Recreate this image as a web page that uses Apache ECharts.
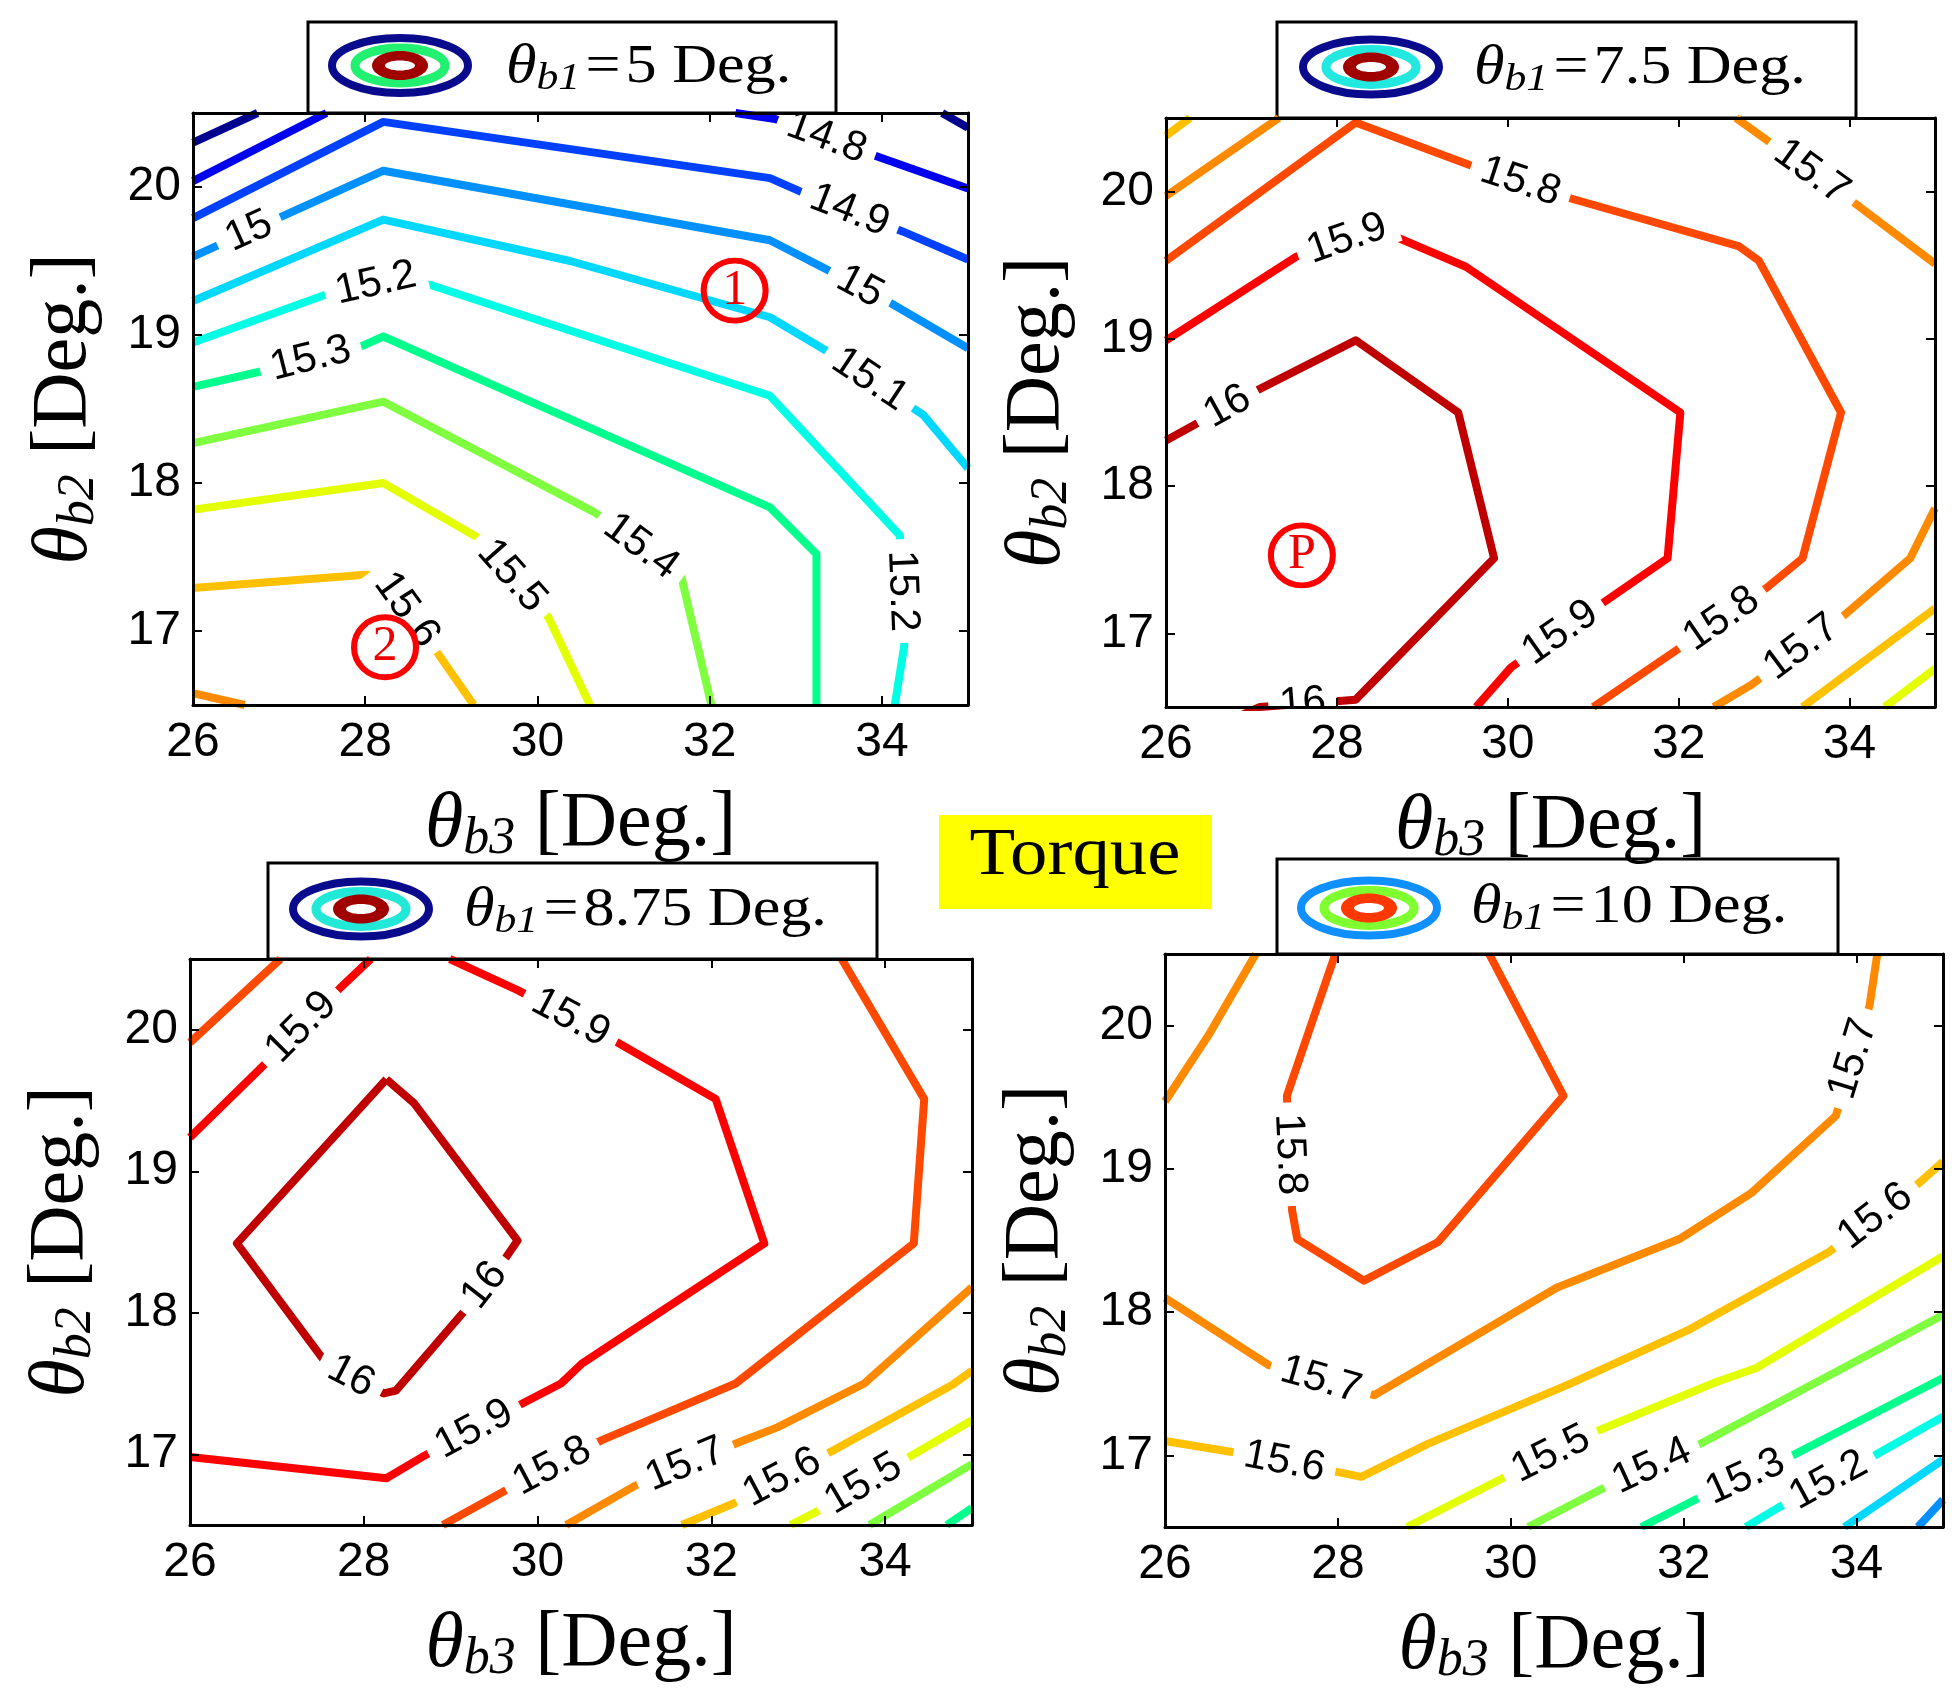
<!DOCTYPE html>
<html>
<head>
<meta charset="utf-8">
<script src="https://cdn.jsdelivr.net/npm/echarts@6/dist/echarts.min.js"></script>
<style>
html,body{margin:0;padding:0;background:#fff;}
#c{width:1955px;height:1707px;}
</style>
</head>
<body>
<div id="c"></div>
<script>
// ---------- data ----------
const xTicks = [26, 28, 30, 32, 34];
const yTicks = [17, 18, 19, 20];
const xRange = [26, 35];
const yRange = [16.5, 20.5];
const panelB1 = ['5', '7.5', '8.75', '10'];
const levels = [14.7, 14.8, 14.9, 15.0, 15.1, 15.2, 15.3, 15.4, 15.5, 15.6, 15.7, 15.8, 15.9, 16.0];

// contour lines: [level, [[theta_b3, theta_b2], ...]]
const p5Lines = [
  [14.7, [[26, 20.30], [26.75, 20.5]]],
  [14.7, [[34.7, 20.5], [35, 20.4]]],
  [14.8, [[26, 20.04], [27.55, 20.5]]],
  [14.8, [[32.3, 20.5], [32.76, 20.46], [33.93, 20.21], [35, 19.99]]],
  [14.9, [[26, 19.79], [28.21, 20.44], [32.70, 20.06], [33.05, 19.97], [34.24, 19.70], [35, 19.51]]],
  [15.0, [[26, 19.53], [28.21, 20.11], [32.70, 19.64], [33.47, 19.41], [34.09, 19.22], [35, 18.91]]],
  [15.1, [[26, 19.23], [28.21, 19.78], [30.38, 19.50], [32.70, 19.12], [33.35, 18.895], [34.48, 18.46], [35, 18.10]]],
  [15.2, [[26, 18.95], [27.53, 19.27], [28.21, 19.36], [28.75, 19.34], [32.70, 18.59], [34.21, 17.645], [34.26, 16.90], [34.15, 16.5]]],
  [15.3, [[26, 18.65], [26.76, 18.75], [27.98, 18.93], [28.21, 18.99], [32.70, 17.835], [33.24, 17.52], [33.24, 16.5]]],
  [15.4, [[26, 18.27], [28.21, 18.55], [30.67, 17.80], [31.67, 17.37], [32.02, 16.5]]],
  [15.5, [[26, 17.82], [28.21, 18.00], [29.31, 17.63], [30.13, 17.09], [30.61, 16.5]]],
  [15.6, [[26, 17.29], [28.0, 17.38], [28.21, 17.36], [28.83, 16.86], [29.26, 16.5]]],
  [15.7, [[26, 16.58], [26.6, 16.5]]]
];
// contour labels: [level, theta_b3, theta_b2]
const p5Labels = [
  [15.0, 26.65, 19.70], [15.2, 28.13, 19.33], [15.3, 27.38, 18.81], [14.8, 33.35, 20.32],
  [14.9, 33.63, 19.85], [15.0, 33.74, 19.32], [15.1, 33.86, 18.70], [15.2, 34.23, 17.27],
  [15.4, 31.19, 17.56], [15.5, 29.68, 17.36], [15.6, 28.45, 17.13]
];

const p75Lines = [
  [15.6, [[26, 20.38], [26.28, 20.5]]],
  [15.7, [[26, 19.97], [27.32, 20.5]]],
  [15.8, [[26, 19.53], [28.22, 20.47], [29.60, 20.17], [30.76, 19.95], [32.70, 19.63], [32.94, 19.53], [33.90, 18.50], [33.45, 17.51], [33.03, 17.31], [31.96, 16.88], [31.00, 16.5]]],
  [15.9, [[26, 18.99], [27.53, 19.56], [28.22, 19.70], [28.70, 19.69], [29.51, 19.49], [32.02, 18.50], [31.87, 17.51], [31.12, 17.21], [30.04, 16.77], [29.63, 16.5]]],
  [16.0, [[26, 18.31], [27.03, 18.64], [28.22, 18.99], [29.42, 18.50], [29.84, 17.51], [28.22, 16.55], [27.1, 16.5], [26.9, 16.45]]],
  [15.7, [[32.67, 20.5], [33.03, 20.35], [34.11, 19.90], [35, 19.51]]],
  [15.7, [[32.41, 16.5], [32.85, 16.65], [33.93, 17.12], [34.71, 17.51], [35, 17.85]]],
  [15.6, [[33.45, 16.5], [35, 17.17]]],
  [15.5, [[34.41, 16.5], [35, 16.76]]]
];
const p75Labels = [
  [15.8, 30.15, 20.07], [15.9, 28.13, 19.66], [16.0, 26.73, 18.53], [15.7, 33.54, 20.12],
  [15.9, 30.62, 17.00], [15.8, 32.50, 17.10], [15.7, 33.42, 16.92], [16.0, 27.60, 16.52]
];

const p875Lines = [
  [15.8, [[26, 19.91], [27.04, 20.5]]],
  [15.9, [[26, 19.24], [26.80, 19.72], [27.72, 20.29], [28.08, 20.5]]],
  [15.9, [[28.99, 20.5], [29.77, 20.28], [30.92, 19.91], [32.05, 19.51], [32.61, 18.49], [30.51, 17.64], [30.27, 17.50], [29.83, 17.36], [28.67, 16.98], [28.26, 16.83], [26, 16.98]]],
  [16.0, [[28.26, 19.65], [28.58, 19.48], [29.77, 18.51], [29.59, 18.35], [29.17, 18.02], [28.37, 17.45], [28.23, 17.43], [27.57, 17.64], [26.54, 18.49], [28.26, 19.65]]],
  [15.8, [[33.50, 20.5], [34.45, 19.51], [34.33, 18.49], [32.28, 17.50], [30.74, 17.10], [29.62, 16.74], [28.91, 16.5]]],
  [15.7, [[35, 18.18], [33.76, 17.50], [32.76, 17.19], [32.34, 17.09], [31.13, 16.78], [30.33, 16.5]]],
  [15.6, [[35, 17.59], [34.77, 17.49], [33.38, 17.02], [32.25, 16.65], [31.66, 16.5]]],
  [15.5, [[35, 17.24], [34.33, 17.00], [33.23, 16.60], [32.91, 16.5]]],
  [15.4, [[35, 16.93], [33.82, 16.5]]],
  [15.3, [[35, 16.62], [34.71, 16.5]]]
];
const p875Labels = [
  [15.9, 27.31, 20.00], [15.9, 30.36, 20.06], [16.0, 29.44, 18.17], [16.0, 27.81, 17.50],
  [15.9, 29.32, 17.12], [15.8, 30.18, 16.90], [15.7, 31.72, 16.90], [15.6, 32.82, 16.83], [15.5, 33.79, 16.75]
];

const p10Lines = [
  [15.7, [[26, 19.47], [26.5, 19.93], [27.05, 20.5]]],
  [15.8, [[27.97, 20.5], [27.41, 19.51], [27.47, 18.71], [27.53, 18.51], [28.30, 18.22], [29.16, 18.49], [30.61, 19.51], [29.75, 20.5]]],
  [15.7, [[26, 18.10], [27.20, 17.63], [28.42, 17.42], [30.53, 18.17], [31.95, 18.51], [32.78, 18.83], [33.76, 19.37], [34.15, 20.14], [34.24, 20.5]]],
  [15.6, [[26, 17.10], [26.81, 17.02], [28.03, 16.88], [28.27, 16.85], [29.04, 17.08], [30.65, 17.49], [32.07, 17.88], [33.68, 18.42], [34.72, 18.90], [35, 19.05]]],
  [15.5, [[28.80, 16.5], [29.87, 16.83], [31.00, 17.17], [32.37, 17.51], [32.84, 17.61], [35, 18.39]]],
  [15.4, [[30.20, 16.5], [31.00, 16.75], [32.19, 17.08], [35, 17.98]]],
  [15.3, [[31.51, 16.5], [32.10, 16.68], [33.26, 17.00], [35, 17.54]]],
  [15.2, [[32.72, 16.5], [33.08, 16.63], [34.21, 17.00], [35, 17.27]]],
  [15.1, [[33.86, 16.5], [35, 16.97]]],
  [15.0, [[34.71, 16.5], [35, 16.69]]]
];
const p10Labels = [
  [15.8, 27.38, 19.10], [15.7, 27.79, 17.50], [15.7, 34.06, 19.75], [15.6, 27.38, 16.95],
  [15.6, 34.24, 18.65], [15.5, 30.47, 17.00], [15.4, 31.65, 16.90], [15.3, 32.73, 16.83], [15.2, 33.70, 16.80]
];

// circled annotations: [panel, text, theta_b3, theta_b2]
const markers = [
  [0, '1', 32.29, 19.30],
  [0, '2', 28.23, 16.89],
  [1, 'P', 27.59, 17.53]
];

// ---------- styles / layout ----------
const palette = ['#00008f', '#0000ee', '#0040ff', '#0090ff', '#00d8ff', '#00ffe4', '#00ff8c',
                 '#7fff40', '#e4ff00', '#ffc000', '#ff8a00', '#ff4800', '#ff0000', '#c00000'];
function colorOf(l) {
  let best = 0;
  levels.forEach((v, i) => { if (Math.abs(v - l) < Math.abs(levels[best] - l)) best = i; });
  return palette[best];
}
const panels = [
  { lines: p5Lines, labels: p5Labels, grid: { left: 193, top: 113, width: 775, height: 592 },
    box: [308, 22, 528, 91], icon: [400, 65.5], txt: [506, 68], ic: ['#0a0a8c', '#22f070', '#a00000'] },
  { lines: p75Lines, labels: p75Labels, grid: { left: 1166, top: 118, width: 769, height: 589 },
    box: [1277, 22, 579, 96], icon: [1371, 67], txt: [1474, 69], ic: ['#0a0a8c', '#22e8e0', '#a00000'] },
  { lines: p875Lines, labels: p875Labels, grid: { left: 190, top: 959, width: 782, height: 566 },
    box: [268, 863, 609, 96], icon: [361, 909], txt: [464, 911], ic: ['#0a0a8c', '#22e8d8', '#a00000'] },
  { lines: p10Lines, labels: p10Labels, grid: { left: 1165, top: 954, width: 778, height: 573 },
    box: [1277, 859, 561, 95], icon: [1369, 908], txt: [1471, 908], ic: ['#1090ff', '#80ff30', '#ff3800'] }
];

const SERIF = 'Liberation Serif';
const SANS = 'Liberation Sans';
const nameRich = {
  t: { fontFamily: SERIF, fontStyle: 'italic', fontSize: 78, lineHeight: 80, color: '#000' },
  s: { fontFamily: SERIF, fontStyle: 'italic', fontSize: 52, lineHeight: 36, verticalAlign: 'bottom', color: '#000' },
  n: { fontFamily: SERIF, fontSize: 78, lineHeight: 80, color: '#000' }
};

function fmt(v) { return String(Math.round(v * 10) / 10); }

function makeLabelRenderer(lines) {
  return function (params, api) {
    const lv = api.value(2);
    const p = api.coord([api.value(0), api.value(1)]);
    let best = null;
    lines.forEach(([L, pts]) => {
      if (Math.abs(L - lv) > 1e-6) return;
      for (let k = 0; k < pts.length - 1; k++) {
        const a = api.coord(pts[k]), b = api.coord(pts[k + 1]);
        const dx = b[0] - a[0], dy = b[1] - a[1];
        const len2 = dx * dx + dy * dy || 1;
        let t = ((p[0] - a[0]) * dx + (p[1] - a[1]) * dy) / len2;
        t = Math.max(0, Math.min(1, t));
        const q = [a[0] + t * dx, a[1] + t * dy];
        const d = (q[0] - p[0]) ** 2 + (q[1] - p[1]) ** 2;
        if (!best || d < best.d) best = { d: d, q: q, ang: Math.atan2(-dy, dx) };
      }
    });
    if (!best) best = { q: p, ang: 0 };
    let ang = best.ang;
    if (ang > Math.PI / 2) ang -= Math.PI;
    if (ang <= -Math.PI / 2) ang += Math.PI;
    return {
      type: 'text', x: best.q[0], y: best.q[1], rotation: ang,
      style: {
        text: fmt(lv), fill: '#000', fontSize: 42, fontFamily: SANS,
        align: 'center', verticalAlign: 'middle', lineHeight: 40,
        backgroundColor: '#fff', padding: [0, 11]
      }
    };
  };
}

const grid = [], xAxis = [], yAxis = [], series = [], graphic = [];
const axisLine = { show: true, onZero: false, lineStyle: { color: '#000', width: 3 } };
panels.forEach((P, i) => {
  grid.push(Object.assign({ containLabel: false }, P.grid));
  const tick = { show: true, inside: true, length: 9, lineStyle: { color: '#000', width: 2 } };
  xAxis.push({
    type: 'value', gridIndex: i, position: 'bottom', min: xRange[0], max: xRange[1], z: 10,
    axisLine: axisLine, splitLine: { show: false },
    axisTick: Object.assign({ customValues: xTicks }, tick),
    axisLabel: { show: true, customValues: xTicks, margin: 14, color: '#000', fontSize: 48, fontFamily: SANS },
    name: '{t|θ}{s|b3}{n| [Deg.]}', nameLocation: 'middle', nameGap: 80,
    nameTextStyle: { rich: nameRich, fontFamily: SERIF, fontSize: 78, color: '#000' }
  });
  xAxis.push({
    type: 'value', gridIndex: i, position: 'top', min: xRange[0], max: xRange[1], z: 10,
    axisLine: axisLine, splitLine: { show: false },
    axisTick: Object.assign({ customValues: xTicks }, tick),
    axisLabel: { show: false }
  });
  yAxis.push({
    type: 'value', gridIndex: i, position: 'left', min: yRange[0], max: yRange[1], z: 10,
    axisLine: axisLine, splitLine: { show: false },
    axisTick: Object.assign({ customValues: yTicks }, tick),
    axisLabel: { show: true, customValues: yTicks, margin: 12, color: '#000', fontSize: 48, fontFamily: SANS },
    name: '{t|θ}{s|b2}{n| [Deg.]}', nameLocation: 'middle', nameGap: 88, nameRotate: 90,
    nameTextStyle: { rich: nameRich, fontFamily: SERIF, fontSize: 78, color: '#000' }
  });
  yAxis.push({
    type: 'value', gridIndex: i, position: 'right', min: yRange[0], max: yRange[1], z: 10,
    axisLine: axisLine, splitLine: { show: false },
    axisTick: Object.assign({ customValues: yTicks }, tick),
    axisLabel: { show: false }
  });
  P.lines.forEach(([L, pts]) => {
    series.push({
      type: 'line', xAxisIndex: 2 * i, yAxisIndex: 2 * i, data: pts, symbol: 'none', showSymbol: false,
      clip: true, silent: true, z: 2,
      lineStyle: { color: colorOf(L), width: 8, join: 'round' }
    });
  });
  series.push({
    type: 'custom', xAxisIndex: 2 * i, yAxisIndex: 2 * i, clip: true, silent: true, z: 4,
    data: P.labels.map(l => [l[1], l[2], l[0]]),
    encode: { x: 0, y: 1 },
    renderItem: makeLabelRenderer(P.lines)
  });
  const mk = markers.filter(m => m[0] === i);
  if (mk.length) {
    series.push({
      type: 'scatter', xAxisIndex: 2 * i, yAxisIndex: 2 * i, silent: true, z: 5,
      symbol: 'circle', symbolSize: [62, 60],
      data: mk.map(m => ({ value: [m[2], m[3]], name: m[1] })),
      itemStyle: { color: 'rgba(255,255,255,0)', borderColor: '#ff0000', borderWidth: 6, opacity: 1 },
      label: { show: true, position: 'inside', formatter: p => p.name, color: '#ee0000',
               fontFamily: SERIF, fontSize: 50 }
    });
  }
  // legend box with contour icon
  const [bx, by, bw, bh] = P.box;
  const [cx, cy] = P.icon;
  graphic.push({
    type: 'group', z: 20, children: [
      { type: 'rect', shape: { x: bx, y: by, width: bw, height: bh }, style: { fill: '#fff', stroke: '#000', lineWidth: 3 } },
      { type: 'ellipse', shape: { cx: cx, cy: cy, rx: 68, ry: 27.5 }, style: { fill: 'none', stroke: P.ic[0], lineWidth: 8 } },
      { type: 'ellipse', shape: { cx: cx, cy: cy, rx: 45, ry: 17.5 }, style: { fill: 'none', stroke: P.ic[1], lineWidth: 9 } },
      { type: 'ellipse', shape: { cx: cx, cy: cy, rx: 28, ry: 14.5 }, style: { fill: P.ic[2] } },
      { type: 'ellipse', shape: { cx: cx, cy: cy, rx: 15, ry: 5 }, style: { fill: '#fff' } },
      { type: 'text', x: P.txt[0], y: P.txt[1], scaleX: 1.15,
        style: { text: '{t|θ}{s|b1}{n|\u200A=\u200A' + panelB1[i] + ' Deg.}', align: 'left', verticalAlign: 'middle',
                 rich: {
                   t: { fontFamily: SERIF, fontStyle: 'italic', fontSize: 54, lineHeight: 60, fill: '#000' },
                   s: { fontFamily: SERIF, fontStyle: 'italic', fontSize: 38, lineHeight: 28, verticalAlign: 'bottom', fill: '#000' },
                   n: { fontFamily: SERIF, fontSize: 54, lineHeight: 60, fill: '#000' }
                 } } }
    ]
  });
});
// Torque tag
graphic.push({
  type: 'group', z: 20, children: [
    { type: 'rect', shape: { x: 939, y: 815, width: 273, height: 94 }, style: { fill: '#ffff00' } },
    { type: 'text', x: 1075, y: 856, scaleX: 1.1,
      style: { text: 'Torque', fontFamily: SERIF, fontSize: 68, fill: '#000', align: 'center', verticalAlign: 'middle' } }
  ]
});

const chart = echarts.init(document.getElementById('c'));
chart.setOption({
  backgroundColor: '#fff',
  animation: false,
  grid: grid, xAxis: xAxis, yAxis: yAxis, series: series, graphic: graphic
});
</script>
</body>
</html>
